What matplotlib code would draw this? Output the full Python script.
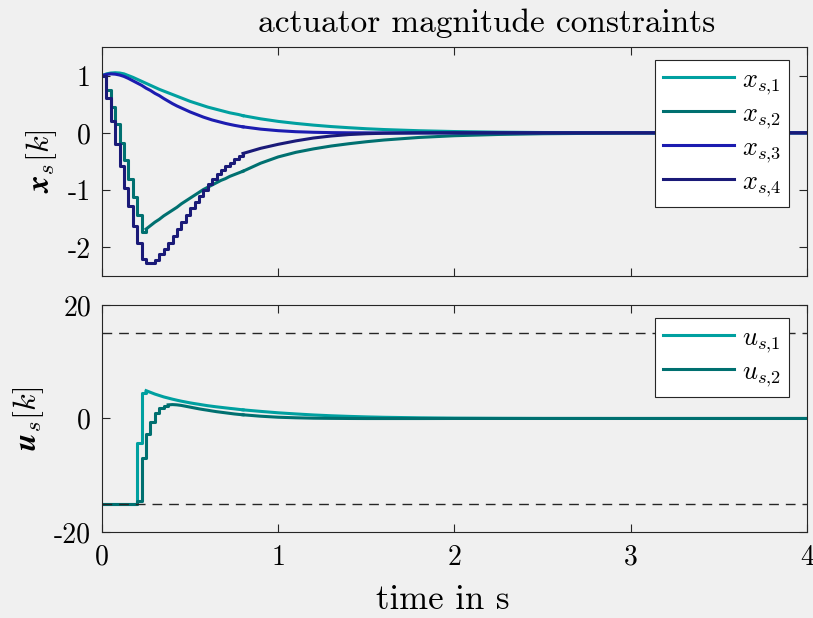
import numpy as np
import matplotlib
matplotlib.use('Agg')
import matplotlib.pyplot as plt

plt.rcParams['font.family'] = ['cmr10', 'DejaVu Serif']
plt.rcParams['mathtext.fontset'] = 'cm'
plt.rcParams['axes.unicode_minus'] = False
plt.rcParams['axes.formatter.use_mathtext'] = False

# Abtastzeit 0.025 s bis t=0.8, danach grobe Stuetzstellen
dt = 0.025
t_fine = np.arange(33) * dt
t_coarse = [0.8, 0.9, 1.0, 1.1, 1.2, 1.3, 1.4, 1.5, 1.6, 1.8, 2.0, 2.25, 2.5, 3.0, 3.5, 4.0]

x1_fine = [1.0, 1.03, 1.045, 1.05, 1.045, 1.03, 1.0, 0.97, 0.935, 0.90, 0.865, 0.83, 0.795, 0.76, 0.73,
           0.70, 0.67, 0.64, 0.61, 0.58, 0.55, 0.525, 0.50, 0.475, 0.45, 0.43, 0.41, 0.39, 0.37, 0.35,
           0.335, 0.32, 0.30]
x2_fine = [1.0, 0.75, 0.45, 0.15, -0.17, -0.48, -0.80, -1.12, -1.43, -1.74, -1.68, -1.62, -1.56, -1.51,
           -1.45, -1.40, -1.35, -1.30, -1.24, -1.19, -1.14, -1.09, -1.04, -0.99, -0.95, -0.91, -0.87,
           -0.83, -0.80, -0.76, -0.73, -0.70, -0.67]
x3_fine = [1.0, 1.02, 1.03, 1.025, 1.01, 0.985, 0.95, 0.91, 0.87, 0.83, 0.78, 0.74, 0.69, 0.65, 0.60,
           0.555, 0.51, 0.47, 0.435, 0.40, 0.365, 0.335, 0.305, 0.275, 0.25, 0.225, 0.205, 0.185, 0.165,
           0.148, 0.132, 0.118, 0.105]
x4_fine = [1.0, 0.60, 0.21, -0.20, -0.58, -0.96, -1.28, -1.63, -1.92, -2.20, -2.28, -2.28, -2.22, -2.12,
           -2.02, -1.92, -1.80, -1.68, -1.56, -1.44, -1.32, -1.21, -1.10, -0.99, -0.89, -0.80, -0.72,
           -0.65, -0.58, -0.52, -0.46, -0.41, -0.36]

x1_coarse = [0.30, 0.245, 0.20, 0.165, 0.135, 0.11, 0.09, 0.072, 0.058, 0.037, 0.023, 0.012, 0.006, 0.0015, 0.0004, 0.0]
x2_coarse = [-0.67, -0.53, -0.42, -0.34, -0.28, -0.23, -0.19, -0.155, -0.125, -0.08, -0.05, -0.028, -0.015, -0.004, -0.001, 0.0]
x3_coarse = [0.105, 0.065, 0.038, 0.02, 0.01, 0.004, 0.001, 0.0, -0.001, -0.002, -0.002, -0.001, -0.001, 0.0, 0.0, 0.0]
x4_coarse = [-0.36, -0.27, -0.20, -0.14, -0.09, -0.055, -0.03, -0.015, -0.007, 0.0, 0.002, 0.001, 0.001, 0.0, 0.0, 0.0]

u1_fine = [-15, -15, -15, -15, -15, -15, -15, -15, -4.3, 4.5, 4.9, 4.6, 4.3, 4.05, 3.8, 3.6, 3.4, 3.22,
           3.05, 2.9, 2.75, 2.62, 2.5, 2.37, 2.25, 2.15, 2.05, 1.96, 1.87, 1.78, 1.7, 1.61, 1.52]
u2_fine = [-15, -15, -15, -15, -15, -15, -15, -15, -14.5, -7.0, -2.8, -0.7, 1.0, 1.8, 2.2, 2.4, 2.45, 2.4,
           2.3, 2.15, 2.0, 1.85, 1.7, 1.57, 1.45, 1.32, 1.2, 1.1, 1.0, 0.9, 0.8, 0.72, 0.65]
u1_coarse = [1.52, 1.25, 1.0, 0.8, 0.62, 0.48, 0.37, 0.28, 0.21, 0.12, 0.06, 0.03, 0.01, 0.002, 0.0, 0.0]
u2_coarse = [0.65, 0.4, 0.22, 0.12, 0.05, 0.02, 0.0, -0.01, -0.01, -0.01, 0.0, 0.0, 0.0, 0.0, 0.0, 0.0]

u_max = 15
x_labels = [r'$x_{s{,}1}$', r'$x_{s{,}2}$', r'$x_{s{,}3}$', r'$x_{s{,}4}$']
u_labels = [r'$u_{s{,}1}$', r'$u_{s{,}2}$']

col_x = ['#00a0a0', '#007070', '#1c1cb0', '#1a1a78']
col_u = ['#00a0a0', '#007070']
bg = '#f0f0f0'
fs = 20

fig = plt.figure(figsize=(8.13, 6.18), dpi=100, facecolor=bg)
ax1 = fig.add_axes([0.1255, 0.5534, 0.867, 0.3706])
ax2 = fig.add_axes([0.1255, 0.1392, 0.867, 0.3673])


# Treppe nur dort, wo die Spruenge sichtbar sind (bis Index n_step), danach glatte Linie
def draw(ax, fine, coarse, c, lab, n_step):
    if n_step > 0:
        ax.plot(t_fine[:n_step + 1], fine[:n_step + 1], drawstyle='steps-post', color=c, lw=2.2, label=lab)
        lab = None
    ax.plot(t_fine[n_step:], fine[n_step:], color=c, lw=2.2, label=lab)
    ax.plot(t_coarse, coarse, color=c, lw=2.2)


for f, cr, c, l, n in zip([x1_fine, x2_fine, x3_fine, x4_fine],
                          [x1_coarse, x2_coarse, x3_coarse, x4_coarse], col_x, x_labels,
                          [0, 10, 0, 32]):
    draw(ax1, f, cr, c, l, n)

for f, cr, c, l, n in zip([u1_fine, u2_fine], [u1_coarse, u2_coarse], col_u, u_labels, [10, 15]):
    draw(ax2, f, cr, c, l, n)
ax2.axhline(u_max, color='#262626', lw=1.0, ls=(0, (7, 5)))
ax2.axhline(-u_max, color='#262626', lw=1.0, ls=(0, (7, 5)))

for ax in (ax1, ax2):
    ax.set_facecolor(bg)
    ax.set_xlim(0, 4)
    ax.set_xticks([0, 1, 2, 3, 4])
    ax.tick_params(direction='in', top=True, right=True, length=6, width=0.8,
                   color='#262626', labelsize=fs)
    ax.tick_params(axis='x', pad=9)
    ax.tick_params(axis='y', pad=8)
    for s in ax.spines.values():
        s.set_color('#262626')
        s.set_linewidth(0.8)
    leg = ax.legend(loc='upper right', bbox_to_anchor=(0.975, 0.943), borderaxespad=0,
                    fontsize=19, fancybox=False, framealpha=1, edgecolor='#262626',
                    handlelength=2.7, labelspacing=0.2, borderpad=0.3, handletextpad=0.3)
    leg.get_frame().set_linewidth(0.8)

ax1.set_ylim(-2.5, 1.5)
ax1.set_yticks([-2, -1, 0, 1])
ax1.set_xticklabels([])
ax1.set_ylabel(r'$\boldsymbol{x}_s[k]$', fontsize=23, labelpad=6)
ax1.set_title('actuator magnitude constraints', fontsize=24, pad=11, x=0.546)

ax2.set_ylim(-20, 20)
ax2.set_yticks([-20, 0, 20])
ax2.set_ylabel(r'$\boldsymbol{u}_s[k]$', fontsize=23, labelpad=6)
ax2.set_xlabel('time in s', fontsize=25, labelpad=10, x=0.483)

fig.savefig('out.png', dpi=100, facecolor=bg)
